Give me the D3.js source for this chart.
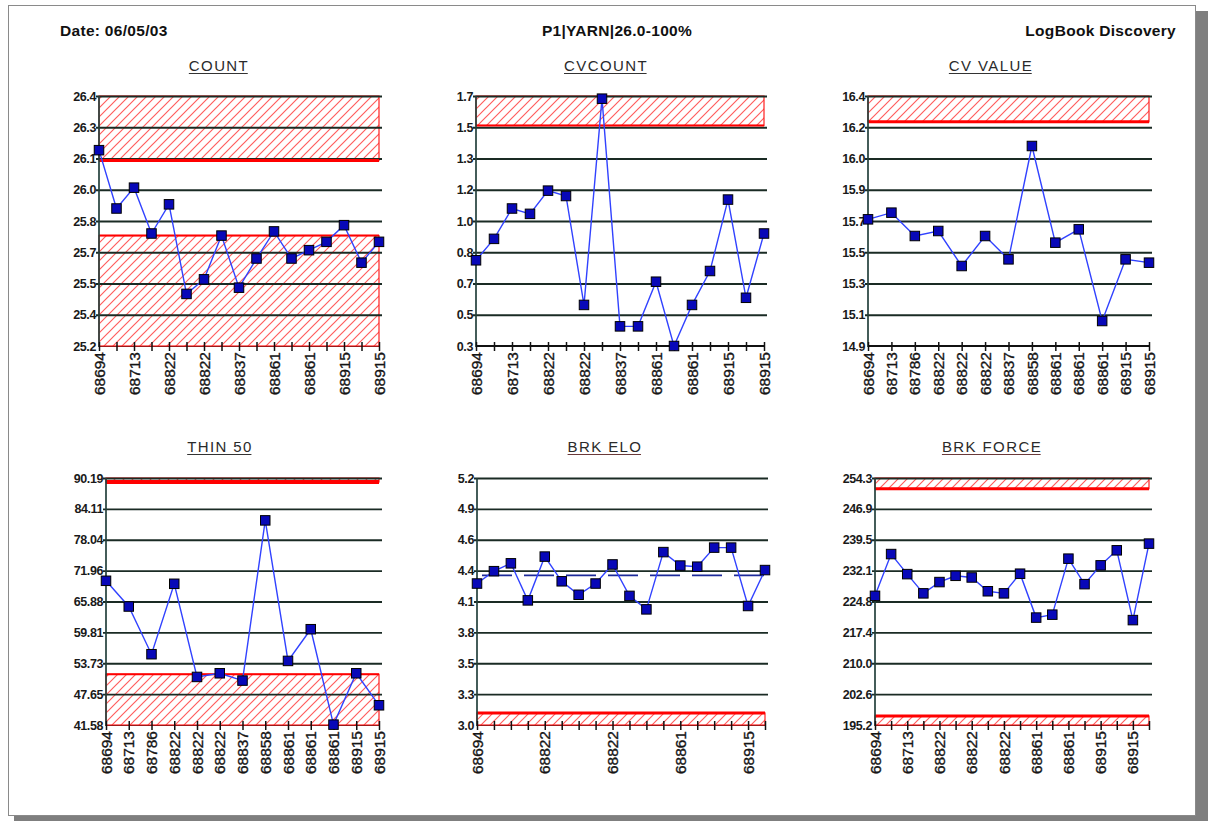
<!DOCTYPE html>
<html>
<head>
<meta charset="utf-8">
<script src="https://cdn.jsdelivr.net/npm/d3@7/dist/d3.min.js"></script>
<style>
  html, body { margin: 0; padding: 0; background: #ffffff; }
  svg { display: block; }
  text { font-family: "Liberation Sans", Arial, Helvetica, sans-serif; }
</style>
</head>
<body>
<script>
// ---------------- DATA ----------------
const headerLeft = "Date: 06/05/03";
const headerCenter = "P1|YARN|26.0-100%";
const headerRight = "LogBook Discovery";

const panelTitles = ["COUNT", "CVCOUNT", "CV VALUE", "THIN 50", "BRK ELO", "BRK FORCE"];

// COUNT
const countValues = [26.14, 25.86, 25.96, 25.74, 25.88, 25.45, 25.52, 25.73, 25.48, 25.62, 25.75, 25.62, 25.66, 25.70, 25.78, 25.60, 25.70];
const countLots = ["68694", "", "68713", "", "68822", "", "68822", "", "68837", "", "68861", "", "68861", "", "68915", "", "68915"];
const countTicks = ["25.2", "25.4", "25.5", "25.7", "25.8", "26.0", "26.1", "26.3", "26.4"];
const countRange = [25.2, 26.4];
const countZones = [[26.09, 26.4], [25.2, 25.73]];

// CVCOUNT
const cvcountValues = [0.78, 0.90, 1.07, 1.04, 1.17, 1.14, 0.53, 1.685, 0.41, 0.41, 0.66, 0.30, 0.53, 0.72, 1.12, 0.57, 0.93];
const cvcountLots = ["68694", "", "68713", "", "68822", "", "68822", "", "68837", "", "68861", "", "68861", "", "68915", "", "68915"];
const cvcountTicks = ["0.3", "0.5", "0.7", "0.8", "1.0", "1.2", "1.3", "1.5", "1.7"];
const cvcountRange = [0.3, 1.7];
const cvcountZones = [[1.535, 1.7]];

// CV VALUE
const cvValues = [15.66, 15.70, 15.56, 15.59, 15.38, 15.56, 15.42, 16.10, 15.52, 15.60, 15.05, 15.42, 15.40];
const cvLots = ["68694", "68713", "68786", "68822", "68822", "68822", "68837", "68858", "68861", "68861", "68861", "68915", "68915"];
const cvTicks = ["14.9", "15.1", "15.3", "15.5", "15.7", "15.9", "16.0", "16.2", "16.4"];
const cvRange = [14.9, 16.4];
const cvZones = [[16.245, 16.4]];

// THIN 50
const thinValues = [69.96, 64.90, 55.51, 69.37, 51.04, 51.76, 50.32, 81.85, 54.19, 60.43, 41.65, 51.76, 45.46];
const thinLots = ["68694", "68713", "68786", "68822", "68822", "68822", "68837", "68858", "68861", "68861", "68861", "68915", "68915"];
const thinTicks = ["41.58", "47.65", "53.73", "59.81", "65.88", "71.96", "78.04", "84.11", "90.19"];
const thinRange = [41.58, 90.19];
const thinZones = [[89.4, 90.19], [41.58, 51.56]];

// BRK ELO
const eloValues = [4.26, 4.37, 4.44, 4.11, 4.50, 4.28, 4.16, 4.26, 4.43, 4.15, 4.03, 4.54, 4.42, 4.41, 4.58, 4.58, 4.06, 4.38];
const eloLots = ["68694", "", "", "", "68822", "", "", "", "68822", "", "", "", "68861", "", "", "", "68915", ""];
const eloTicks = ["3.0", "3.3", "3.5", "3.8", "4.1", "4.4", "4.6", "4.9", "5.2"];
const eloRange = [3.0, 5.2];
const eloZones = [[3.0, 3.107]];
const eloMean = 4.332;

// BRK FORCE
const forceValues = [226.1, 236.1, 231.3, 226.7, 229.4, 230.9, 230.5, 227.2, 226.7, 231.4, 220.9, 221.6, 235.0, 228.9, 233.4, 237.0, 220.3, 238.6];
const forceLots = ["68694", "", "68713", "", "68822", "", "68822", "", "68822", "", "68861", "", "68861", "", "68915", "", "68915", ""];
const forceTicks = ["195.2", "202.6", "210.0", "217.4", "224.8", "232.1", "239.5", "246.9", "254.3"];
const forceRange = [195.2, 254.3];
const forceZones = [[251.75, 254.3], [195.2, 197.35]];

// ---------------- DRAW ----------------
const W = 1208, H = 821;
const svg = d3.select("body").append("svg").attr("width", W).attr("height", H);

// frame with shadow
svg.append("rect").attr("x", 14).attr("y", 11).attr("width", W - 14).attr("height", H - 11).attr("fill", "#7f7f7f");
svg.append("rect").attr("x", 8.5).attr("y", 5.5).attr("width", 1187).attr("height", 810)
  .attr("fill", "#ffffff").attr("stroke", "#8a8a8a").attr("stroke-width", 1);

const defs = svg.append("defs");
const pat = defs.append("pattern").attr("id", "hatch").attr("patternUnits", "userSpaceOnUse")
  .attr("width", 9).attr("height", 9);
pat.append("rect").attr("width", 9).attr("height", 9).attr("fill", "#ffffff");
pat.append("path").attr("d", "M-1,1 L1,-1 M0,9 L9,0 M8,10 L10,8")
  .attr("stroke", "#ff5c5c").attr("stroke-width", 1.15);

// header
const hdr = svg.append("g").attr("font-weight", "bold").attr("font-size", 15.5).attr("fill", "#111")
  .attr("letter-spacing", 0.3);
hdr.append("text").attr("x", 60).attr("y", 36).text(headerLeft);
hdr.append("text").attr("x", 617).attr("y", 36).attr("text-anchor", "middle").text(headerCenter);
hdr.append("text").attr("x", 1176).attr("y", 36).attr("text-anchor", "end").text(headerRight);

const layouts = [
  { x0: 99,  x1: 379,  y0: 96,  y1: 346, tx: 219, ty: 71 },
  { x0: 476, x1: 764,  y0: 96,  y1: 346, tx: 606, ty: 71 },
  { x0: 868, x1: 1149, y0: 96,  y1: 346, tx: 991, ty: 71 },
  { x0: 106, x1: 379,  y0: 478, y1: 725, tx: 220, ty: 452 },
  { x0: 477, x1: 765,  y0: 478, y1: 725, tx: 605, ty: 452 },
  { x0: 875, x1: 1149, y0: 478, y1: 725, tx: 992, ty: 452 }
];

const panels = [
  { values: countValues, lots: countLots, ticks: countTicks, range: countRange, zones: countZones, limW: [3, 2] },
  { values: cvcountValues, lots: cvcountLots, ticks: cvcountTicks, range: cvcountRange, zones: cvcountZones, limW: [2] },
  { values: cvValues, lots: cvLots, ticks: cvTicks, range: cvRange, zones: cvZones, limW: [3] },
  { values: thinValues, lots: thinLots, ticks: thinTicks, range: thinRange, zones: thinZones, limW: [4, 2] },
  { values: eloValues, lots: eloLots, ticks: eloTicks, range: eloRange, zones: eloZones, limW: [3], mean: eloMean },
  { values: forceValues, lots: forceLots, ticks: forceTicks, range: forceRange, zones: forceZones, limW: [3, 3] }
];

const gridColor = "#1a2b24";

panels.forEach((p, k) => {
  const L = layouts[k];
  const g = svg.append("g");
  const n = p.values.length;
  const x = d3.scalePoint().domain(d3.range(n)).range([L.x0, L.x1]).padding(0);
  const y = d3.scaleLinear().domain(p.range).range([L.y1, L.y0]);
  const tickVals = p.ticks.map((t, i) => p.range[0] + i * (p.range[1] - p.range[0]) / (p.ticks.length - 1));

  // bottom axis line
  g.append("line").attr("x1", L.x0).attr("x2", L.x1).attr("y1", L.y1).attr("y2", L.y1)
    .attr("stroke", "#111").attr("stroke-width", 1.9);

  // hatched spec zones
  p.zones.forEach(z => {
    g.append("rect").attr("x", L.x0).attr("width", L.x1 - L.x0)
      .attr("y", y(z[1])).attr("height", y(z[0]) - y(z[1]))
      .attr("fill", "url(#hatch)").attr("stroke", "#ff2020").attr("stroke-width", 1.2);
  });

  // gridlines (via axis)
  const grid = g.append("g").attr("transform", `translate(${L.x0},0)`)
    .call(d3.axisRight(y).tickValues(tickVals.slice(1)).tickSize(L.x1 - L.x0 + 3).tickFormat(""));
  grid.select(".domain").remove();
  grid.selectAll(".tick line").attr("x1", -3).attr("stroke", gridColor).attr("stroke-width", 1.9);

  // limit lines
  p.zones.forEach((z, i) => {
    const edge = (z[0] <= p.range[0] + 1e-9) ? z[1] : z[0];
    g.append("line").attr("x1", L.x0).attr("x2", L.x1).attr("y1", y(edge)).attr("y2", y(edge))
      .attr("stroke", "#ff0000").attr("stroke-width", p.limW[i]);
  });

  // y axis line
  g.append("line").attr("x1", L.x0).attr("x2", L.x0).attr("y1", L.y0).attr("y2", L.y1 + 1)
    .attr("stroke", "#24403c").attr("stroke-width", 1.7);

  // y tick labels
  const ya = g.append("g").attr("transform", `translate(${L.x0},0)`)
    .call(d3.axisLeft(y).tickValues(tickVals).tickSize(0).tickPadding(3).tickFormat((d, i) => p.ticks[i]));
  ya.select(".domain").remove();
  ya.selectAll("text").attr("font-family", "'Liberation Sans', Arial, sans-serif")
    .attr("font-size", 12.5).attr("font-weight", "bold").attr("fill", "#1a1a1a").attr("letter-spacing", -0.4);

  // x ticks
  const xa = g.append("g").attr("transform", `translate(0,${L.y1})`)
    .call(d3.axisBottom(x).tickSize(5).tickFormat(""));
  xa.select(".domain").remove();
  xa.selectAll(".tick line").attr("y1", -4).attr("stroke", "#111").attr("stroke-width", 1.5);

  // x labels (rotated)
  g.selectAll("text.xl").data(p.lots).join("text").attr("class", "xl")
    .attr("transform", (d, i) => `translate(${x(i)},${L.y1 + 6}) rotate(-90)`)
    .attr("text-anchor", "end").attr("dy", "0.36em")
    .attr("font-size", 15.5).attr("fill", "#151515")
    .attr("stroke", "#151515").attr("stroke-width", 0.35)
    .text(d => d);

  // mean line
  if (p.mean !== undefined) {
    g.append("line").attr("x1", L.x0).attr("x2", L.x1).attr("y1", y(p.mean)).attr("y2", y(p.mean))
      .attr("stroke", "#1c2a9a").attr("stroke-width", 1.8).attr("stroke-dasharray", "30,12")
      .attr("stroke-dashoffset", -5);
  }

  // data line
  g.append("path").datum(p.values)
    .attr("d", d3.line().x((d, i) => x(i)).y(d => y(d)))
    .attr("fill", "none").attr("stroke", "#3142ff").attr("stroke-width", 1.4);

  // markers
  const s = 9.5;
  g.selectAll("rect.pt").data(p.values).join("rect").attr("class", "pt")
    .attr("x", (d, i) => x(i) - s / 2).attr("y", d => y(d) - s / 2)
    .attr("width", s).attr("height", s)
    .attr("fill", "#0808b8").attr("stroke", "#000").attr("stroke-width", 1);

  // title
  const t = g.append("text").attr("x", L.tx).attr("y", L.ty).attr("text-anchor", "middle")
    .attr("font-size", 15).attr("letter-spacing", 1.4).attr("fill", "#2a2a2a")
    .text(panelTitles[k]);
  const bb = t.node().getBBox();
  g.append("line").attr("x1", bb.x).attr("x2", bb.x + bb.width - 1.4).attr("y1", L.ty + 2.5).attr("y2", L.ty + 2.5)
    .attr("stroke", k >= 4 ? "#6a3a3a" : "#333").attr("stroke-width", 1.2);
});
</script>
</body>
</html>
